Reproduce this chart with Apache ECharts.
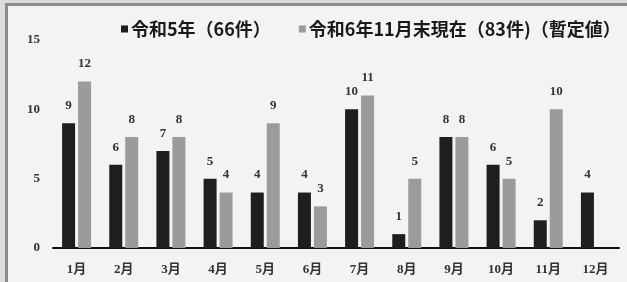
<!DOCTYPE html>
<html>
<head>
<meta charset="utf-8">
<script src="https://cdn.jsdelivr.net/npm/echarts@6/dist/echarts.min.js"></script>
<style>
  html, body { margin: 0; padding: 0; background: #dcdcda; }
  #frame { position: absolute; left: 5px; top: 3px; width: 640px; height: 300px;
           border-left: 3px solid #8c8c8a; border-top: 3px solid #8c8c8a; background: #f3f3f1; }
  #main { position: absolute; left: 0; top: 0; width: 627px; height: 282px; }
</style>
</head>
<body>
<div id="frame"></div>
<div id="main"></div>
<script>
// 月別件数
var months = ['1月', '2月', '3月', '4月', '5月', '6月', '7月', '8月', '9月', '10月', '11月', '12月'];
var r5 = [9, 6, 7, 5, 4, 4, 10, 1, 8, 6, 2, 4];
var r6 = [12, 8, 8, 4, 9, 3, 11, 5, 8, 5, 10, null];
var seriesNames = ['令和5年（66件）', '令和6年11月末現在（83件)（暫定値）'];

var numFont = '"Liberation Serif", "Noto Sans CJK JP", serif';

var myChart = echarts.init(document.getElementById('main'));

var option = {
    backgroundColor: 'transparent',
    animation: false,
    color: ['#1e1e1e', '#9b9b9b'],
    legend: {
        left: 116,
        top: 15,
        itemWidth: 7,
        itemHeight: 7,
        itemGap: 28,
        icon: 'rect',
        textStyle: {
            fontFamily: '"Noto Sans CJK JP", sans-serif',
            fontWeight: 'bold',
            fontSize: 18,
            color: '#1a1a1a',
            padding: [0, 0, 0, -2]
        },
        data: seriesNames
    },
    grid: {
        left: 53,
        right: 8,
        top: 40,
        bottom: 34
    },
    xAxis: {
        type: 'category',
        data: months,
        axisTick: { show: false },
        axisLine: { lineStyle: { color: '#111', width: 2 } },
        axisLabel: {
            margin: 15,
            fontFamily: numFont,
            fontWeight: 'bold',
            fontSize: 13,
            color: '#333'
        }
    },
    yAxis: {
        type: 'value',
        min: 0,
        max: 15,
        interval: 5,
        splitLine: { show: false },
        axisLine: { show: false },
        axisTick: { show: false },
        axisLabel: {
            margin: 13,
            fontFamily: numFont,
            fontWeight: 'bold',
            fontSize: 13,
            color: '#333'
        }
    },
    series: [
        {
            name: seriesNames[0],
            type: 'bar',
            barWidth: 13,
            barGap: '23%',
            data: r5,
            label: {
                show: true,
                position: 'top',
                distance: 11,
                fontFamily: numFont,
                fontWeight: 'bold',
                fontSize: 13,
                color: '#333'
            }
        },
        {
            name: seriesNames[1],
            type: 'bar',
            barWidth: 13,
            data: r6,
            label: {
                show: true,
                position: 'top',
                distance: 11,
                fontFamily: numFont,
                fontWeight: 'bold',
                fontSize: 13,
                color: '#333'
            }
        }
    ]
};

myChart.setOption(option);
</script>
</body>
</html>
